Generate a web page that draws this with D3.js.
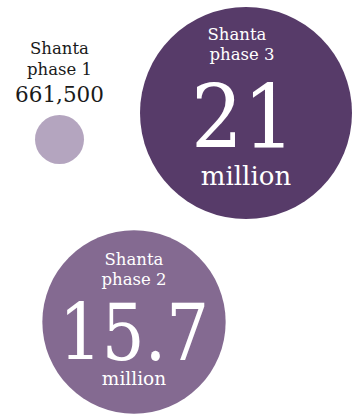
<!DOCTYPE html>
<html>
<head>
<meta charset="utf-8">
<script src="https://cdn.jsdelivr.net/npm/d3@7"></script>
<style>
  html, body { margin: 0; padding: 0; background: #ffffff; }
  svg { display: block; }
  text { font-family: "DejaVu Serif", "Liberation Serif", serif; }
</style>
</head>
<body>
<div id="chart"></div>
<script>
// ---- data ----
const phases = ["Shanta phase 1", "Shanta phase 2", "Shanta phase 3"];
const nameLines = [["Shanta", "phase 1"], ["Shanta", "phase 2"], ["Shanta", "phase 3"]];
const valuesMillion = [0.6615, 15.7, 21];
const valueLabels = ["661,500", "15.7", "21"];
const unitLabels = ["", "million", "million"];
const colors = ["#b4a5bf", "#846a91", "#573b69"];

// ---- layout ----
const W = 358, H = 417;
const svg = d3.select("#chart").append("svg").attr("width", W).attr("height", H);

const r = d3.scaleSqrt().domain([0, d3.max(valuesMillion)]).range([0, 106]);
const minR = 24.5;
const centers = [[59.5, 139.5], [134, 322], [246, 113]];

const data = phases.map((p, i) => ({
  name: p, lines: nameLines[i], value: valuesMillion[i],
  label: valueLabels[i], unit: unitLabels[i], color: colors[i],
  cx: centers[i][0], cy: centers[i][1], r: Math.max(minR, r(valuesMillion[i]))
}));

svg.selectAll("circle").data(data).enter().append("circle")
  .attr("cx", d => d.cx).attr("cy", d => d.cy).attr("r", d => d.r)
  .attr("fill", d => d.color);

// Phase 1: label above the small circle
const d1 = data[0];
const g1 = svg.append("g").attr("fill", "#1a1a1a").attr("text-anchor", "middle");
g1.append("text").attr("x", d1.cx).attr("y", 54).attr("font-size", 16.5).text(d1.lines[0]);
g1.append("text").attr("x", d1.cx).attr("y", 75).attr("font-size", 16.5).text(d1.lines[1]);
g1.append("text").attr("x", d1.cx).attr("y", 101.5).attr("font-size", 21.5).text(d1.label);

// Phase 3: large circle
const d3c = data[2];
const g3 = svg.append("g").attr("fill", "#ffffff").attr("text-anchor", "middle");
g3.append("text").attr("x", d3c.cx - 9).attr("y", 40).attr("font-size", 16.5).text(d3c.lines[0]);
g3.append("text").attr("x", d3c.cx - 4).attr("y", 60).attr("font-size", 16.5).text(d3c.lines[1]);
g3.append("text").attr("x", d3c.cx - 3).attr("y", 148).attr("font-size", 88)
  .attr("textLength", 104).attr("lengthAdjust", "spacingAndGlyphs").text(d3c.label);
g3.append("text").attr("x", d3c.cx).attr("y", 185).attr("font-size", 26).text(d3c.unit);

// Phase 2: medium circle
const d2 = data[1];
const g2 = svg.append("g").attr("fill", "#ffffff").attr("text-anchor", "middle");
g2.append("text").attr("x", d2.cx).attr("y", 265).attr("font-size", 16.5).text(d2.lines[0]);
g2.append("text").attr("x", d2.cx).attr("y", 285).attr("font-size", 16.5).text(d2.lines[1]);
g2.append("text").attr("x", d2.cx).attr("y", 360).attr("font-size", 78)
  .attr("textLength", 150).attr("lengthAdjust", "spacingAndGlyphs").text(d2.label);
g2.append("text").attr("x", d2.cx).attr("y", 385).attr("font-size", 18.5).text(d2.unit);
</script>
</body>
</html>
